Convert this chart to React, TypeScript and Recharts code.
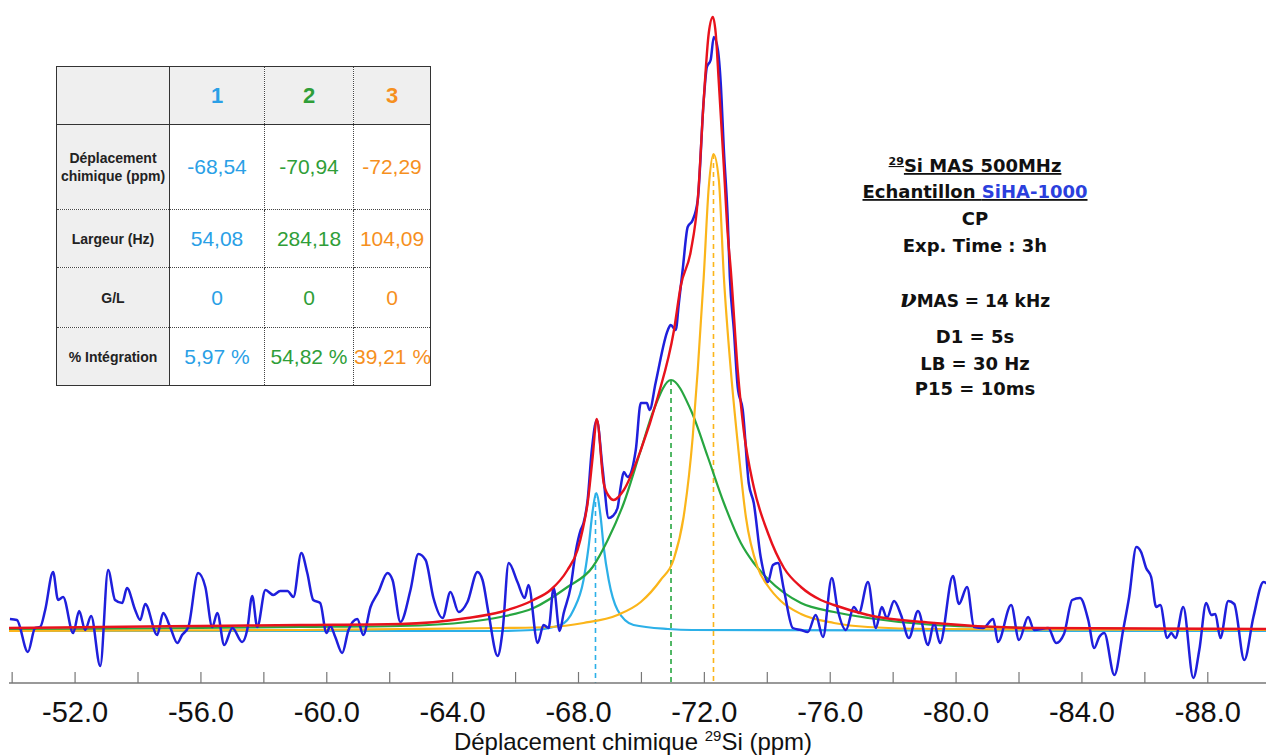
import React from 'react';
import { LineChart, Line, XAxis, YAxis, ReferenceLine } from 'recharts';

// chemical shift (ppm) / intensity pairs
const spectrum: [number, number][] = [
  [-49.93, 12], [-50.15, 11], [-50.5, -21], [-50.73, 3], [-50.89, 4], [-51.05, 21], [-51.3, 59], [-51.46, 31],
  [-51.62, 34], [-51.94, -2], [-52.13, 20], [-52.32, 1], [-52.51, 15], [-52.8, -35], [-53.05, 61], [-53.27, 31],
  [-53.5, 28], [-53.65, 43], [-53.91, 21], [-54.07, 11], [-54.23, 27], [-54.61, -4], [-54.8, 18], [-55.02, 4],
  [-55.25, -12], [-55.4, -4], [-55.6, 4], [-55.91, 58], [-56.14, 44], [-56.36, 4], [-56.52, 18], [-56.74, -14],
  [-57.0, 3], [-57.31, -11], [-57.47, 1], [-57.63, 35], [-57.79, 4], [-58.05, 41], [-58.3, 36], [-58.52, 40],
  [-58.75, 40], [-58.94, 34], [-59.19, 78], [-59.38, 58], [-59.57, 31], [-59.79, 28], [-59.99, -2], [-60.11, 5],
  [-60.27, -6], [-60.49, -22], [-60.69, 1], [-60.97, 12], [-61.16, -4], [-61.39, 24], [-61.64, 39], [-61.93, 58],
  [-62.09, 51], [-62.34, 9], [-62.66, 41], [-62.91, 77], [-63.14, 71], [-63.39, 33], [-63.68, 13], [-63.93, 39],
  [-64.19, 19], [-64.47, 29], [-64.79, 59], [-64.95, 51], [-65.14, 18], [-65.43, -25], [-65.59, 1], [-65.78, 68],
  [-66.06, 49], [-66.29, 33], [-66.41, 46], [-66.7, -12], [-66.89, 6], [-67.05, 3], [-67.21, 43], [-67.4, 0],
  [-67.53, 18], [-67.75, 44], [-67.91, 79], [-68.07, 101], [-68.16, 108], [-68.29, 131], [-68.42, 180], [-68.58, 211],
  [-68.77, 161], [-68.96, 113], [-69.09, 115], [-69.24, 123], [-69.34, 144], [-69.44, 159], [-69.56, 154], [-69.82, 181],
  [-69.98, 228], [-70.17, 228], [-70.26, 221], [-70.45, 248], [-70.84, 301], [-70.93, 306], [-71.09, 301], [-71.19, 328],
  [-71.31, 361], [-71.47, 404], [-71.63, 411], [-71.79, 431], [-71.98, 531], [-72.08, 564], [-72.2, 571], [-72.3, 594],
  [-72.43, 581], [-72.52, 548], [-72.62, 481], [-72.74, 414], [-72.81, 354], [-72.94, 300], [-73.06, 244], [-73.22, 221],
  [-73.41, 148], [-73.57, 128], [-73.79, 74], [-74.02, 49], [-74.18, 66], [-74.34, 68], [-74.53, 41], [-74.81, 3],
  [-75.07, 1], [-75.29, -1], [-75.54, 16], [-75.77, -6], [-76.05, 53], [-76.24, 21], [-76.5, 1], [-76.75, 24],
  [-76.91, 18], [-77.2, 49], [-77.45, 3], [-77.64, 24], [-77.8, 13], [-78.03, 30], [-78.25, 16], [-78.5, -7],
  [-78.79, 20], [-79.11, -14], [-79.3, 8], [-79.49, -12], [-79.9, 55], [-80.09, 27], [-80.35, 44], [-80.57, 4],
  [-80.86, 3], [-81.18, 12], [-81.33, -11], [-81.75, 26], [-82.0, -9], [-82.29, 14], [-82.48, 1], [-82.93, 3],
  [-83.18, -12], [-83.43, -3], [-83.69, 31], [-83.94, 33], [-84.2, 11], [-84.39, -17], [-84.55, -6], [-84.71, -2],
  [-85.03, -44], [-85.31, 1], [-85.5, 34], [-85.73, 84], [-85.88, 79], [-86.04, 63], [-86.2, 54], [-86.36, 24],
  [-86.49, 26], [-86.71, -7], [-86.84, -2], [-86.97, -7], [-87.22, 24], [-87.54, -47], [-87.73, -19], [-87.95, 28],
  [-88.11, 16], [-88.24, 17], [-88.4, -7], [-88.65, 30], [-88.84, 27], [-89.16, -29], [-89.45, 14], [-89.77, 49],
  [-89.89, 47],
];

// sum of the fitted components
const fitSum: [number, number][] = [
  [-49.9, 3], [-52.8, 4], [-55.98, 5], [-59.16, 6], [-62.34, 7], [-64.47, 13], [-65.52, 19], [-66.57, 31],
  [-67.11, 41], [-67.65, 61], [-67.97, 81], [-68.13, 101], [-68.29, 128], [-68.45, 174], [-68.58, 212], [-68.8, 148],
  [-68.96, 135], [-69.12, 131], [-69.44, 141], [-69.98, 181], [-70.52, 234], [-71.03, 300], [-71.25, 345], [-71.57, 380],
  [-71.79, 431], [-71.98, 531], [-72.14, 598], [-72.27, 614], [-72.36, 598], [-72.46, 548], [-72.62, 464], [-72.74, 398],
  [-72.84, 361], [-73.06, 261], [-73.25, 201], [-73.57, 144], [-74.02, 98], [-74.53, 63], [-75.07, 44], [-75.7, 31],
  [-76.12, 26], [-77.2, 16], [-79.3, 8], [-82.48, 3], [-89.89, 2],
];

const peak1: [number, number][] = [
  [-49.9, 0], [-65.52, 0], [-66.57, 1], [-67.43, 6], [-67.84, 21], [-68.16, 51], [-68.32, 84], [-68.45, 120],
  [-68.56, 138], [-68.7, 115], [-68.8, 84], [-68.96, 51], [-69.24, 21], [-69.75, 6], [-70.84, 2], [-71.6, 1], [-89.89, 0],
];

const peak2: [number, number][] = [
  [-49.9, 1], [-52.8, 2], [-55.98, 3], [-59.16, 4], [-62.34, 5], [-64.47, 9], [-65.52, 14], [-66.57, 23],
  [-67.65, 44], [-68.45, 64], [-68.93, 91], [-69.44, 128], [-69.98, 181], [-70.39, 221], [-70.94, 251], [-71.57, 221],
  [-72.11, 174], [-72.62, 128], [-73.16, 88], [-73.57, 68], [-74.02, 52], [-75.07, 28], [-76.12, 19], [-77.2, 13],
  [-79.3, 6], [-82.48, 3], [-89.89, 1],
];

const peak3: [number, number][] = [
  [-49.9, 0], [-59.16, 1], [-62.34, 2], [-65.52, 3], [-67.11, 4], [-68.16, 8], [-69.24, 16], [-69.98, 29],
  [-70.61, 51], [-71.03, 72], [-71.34, 114], [-71.63, 194], [-71.79, 261], [-71.98, 354], [-72.14, 444], [-72.29, 477],
  [-72.46, 451], [-72.62, 354], [-72.84, 261], [-73.06, 188], [-73.32, 114], [-73.7, 63], [-74.02, 45], [-74.43, 30],
  [-75.07, 17], [-76.12, 8], [-77.2, 4], [-79.3, 2], [-89.89, 1],
];

// fit results
const peakNames = ['1', '2', '3'];
const peakShifts = [-68.54, -70.94, -72.29];
const peakHeights = [138, 251, 477];
const shiftLabels = ['-68,54', '-70,94', '-72,29'];
const widthLabels = ['54,08', '284,18', '104,09'];
const glLabels = ['0', '0', '0'];
const integrationLabels = ['5,97 %', '54,82 %', '39,21 %'];
const peakColors = ['#2a9fe6', '#2f9e38', '#f6901e'];
const curveColors = ['#2cb0e8', '#27a640', '#fbb51a'];

const tickValues = [-50, -52, -54, -56, -58, -60, -62, -64, -66, -68, -70, -72, -74, -76, -78, -80, -82, -84, -86, -88];
const labelledTicks = [-52, -56, -60, -64, -68, -72, -76, -80, -84, -88];

const toRows = (pts: [number, number][]) => pts.map(([x, y]) => ({ x, y }));

const AxisTick = (props: any) => {
  const { x, y, payload } = props;
  const v = payload.value;
  return (
    <g>
      <line x1={x} x2={x} y1={y - 11} y2={y} stroke="#777" strokeWidth={1.2} />
      {labelledTicks.includes(v) && (
        <text x={x} y={y + 39} textAnchor="middle" fontSize={29} fill="#111" fontFamily="'Liberation Sans', Arial, sans-serif">
          {v.toFixed(1)}
        </text>
      )}
    </g>
  );
};

const cellBase: React.CSSProperties = {
  borderRight: '1px dotted #444',
  borderBottom: '1px dotted #444',
  textAlign: 'center',
  verticalAlign: 'middle',
  padding: 0,
  whiteSpace: 'nowrap',
  overflow: 'hidden',
};

const FitTable = () => {
  const rows = [
    { label: ['Déplacement', 'chimique (ppm)'], values: shiftLabels, h: 85 },
    { label: ['Largeur (Hz)'], values: widthLabels, h: 58 },
    { label: ['G/L'], values: glLabels, h: 60 },
    { label: ['% Intégration'], values: integrationLabels, h: 58 },
  ];
  const colW = [113, 95, 89, 77];
  const labelStyle: React.CSSProperties = {
    ...cellBase,
    background: '#efefef',
    borderRight: '1px solid #333',
    fontWeight: 'bold',
    fontSize: 14,
    lineHeight: '18px',
    color: '#222',
  };
  return (
    <table
      style={{
        position: 'absolute', left: 56, top: 66, borderCollapse: 'collapse', tableLayout: 'fixed',
        width: 375, border: '1.5px solid #333', fontFamily: "'Liberation Sans', Arial, sans-serif", background: '#fff',
      }}
    >
      <colgroup>{colW.map((w, i) => <col key={i} style={{ width: w }} />)}</colgroup>
      <tbody>
        <tr style={{ height: 58 }}>
          <td style={{ ...labelStyle, borderBottom: '1px solid #333' }} />
          {peakNames.map((n, i) => (
            <td key={n} style={{ ...cellBase, background: '#efefef', borderBottom: '1px solid #333', color: peakColors[i], fontWeight: 'bold', fontSize: 22 }}>{n}</td>
          ))}
        </tr>
        {rows.map((r) => (
          <tr key={r.label[0]} style={{ height: r.h }}>
            <td style={labelStyle}>{r.label.map((l) => <div key={l}>{l}</div>)}</td>
            {r.values.map((v, i) => (
              <td key={i} style={{ ...cellBase, color: peakColors[i], fontSize: 21, textAlign: i === 2 && v.length > 6 ? 'left' : 'center' }}>{v}</td>
            ))}
          </tr>
        ))}
      </tbody>
    </table>
  );
};

const Notes = () => {
  const f = "'DejaVu Sans', sans-serif";
  const common = { x: 975, textAnchor: 'middle' as const, fontFamily: f, fontWeight: 'bold', fontSize: 18, fill: '#111' };
  return (
    <svg width={1266} height={756} style={{ position: 'absolute', left: 0, top: 0, pointerEvents: 'none' }}>
      <text {...common} y={172} textDecoration="underline">
        <tspan fontSize={11} dy={-7}>29</tspan>
        <tspan dy={7}>Si MAS 500MHz</tspan>
      </text>
      <text {...common} y={198} textDecoration="underline">
        Echantillon <tspan fill="#2b3fdd">SiHA-1000</tspan>
      </text>
      <text {...common} y={225}>CP</text>
      <text {...common} y={252}>Exp. Time : 3h</text>
      <text {...common} y={307} fontSize={17}>
        <tspan fontFamily="'DejaVu Serif', serif" fontStyle="italic" fontSize={24}>ν</tspan>MAS = 14 kHz
      </text>
      <text {...common} y={343}>D1 = 5s</text>
      <text {...common} y={370}>LB = 30 Hz</text>
      <text {...common} y={395}>P15 = 10ms</text>
      <text x={633} y={750} textAnchor="middle" fontSize={24} fill="#111" fontFamily="'Liberation Sans', Arial, sans-serif">
        Déplacement chimique <tspan fontSize={15} dy={-9}>29</tspan><tspan dy={9}>Si (ppm)</tspan>
      </text>
    </svg>
  );
};

export default function App() {
  return (
    <div style={{ position: 'absolute', left: 0, top: 0, width: 1266, height: 756, background: '#fff', overflow: 'hidden' }}>
      <LineChart width={1266} height={756} margin={{ top: 0, right: 0, left: 9, bottom: 0 }}>
        <XAxis
          type="number"
          dataKey="x"
          domain={[-89.85, -49.9]}
          reversed
          allowDataOverflow
          ticks={tickValues}
          interval={0}
          tick={<AxisTick />}
          tickLine={false}
          tickSize={0}
          tickMargin={0}
          axisLine={{ stroke: '#777', strokeWidth: 1.5 }}
          height={73}
        />
        <YAxis type="number" dataKey="y" domain={[-52, 631]} allowDataOverflow hide />
        {peakShifts.map((s, i) => (
          <ReferenceLine
            key={s}
            segment={[{ x: s, y: peakHeights[i] }, { x: s, y: -52 }]}
            stroke={curveColors[i]}
            strokeWidth={1.6}
            strokeDasharray="5 4"
          />
        ))}
        <Line data={toRows(peak1)} dataKey="y" type="monotone" stroke={curveColors[0]} strokeWidth={2.2} dot={false} isAnimationActive={false} />
        <Line data={toRows(peak2)} dataKey="y" type="monotone" stroke={curveColors[1]} strokeWidth={2.2} dot={false} isAnimationActive={false} />
        <Line data={toRows(peak3)} dataKey="y" type="monotone" stroke={curveColors[2]} strokeWidth={2.2} dot={false} isAnimationActive={false} />
        <Line data={toRows(spectrum)} dataKey="y" type="monotone" stroke="#1f1fdc" strokeWidth={2.5} dot={false} isAnimationActive={false} />
        <Line data={toRows(fitSum)} dataKey="y" type="monotone" stroke="#e8121c" strokeWidth={2.4} dot={false} isAnimationActive={false} />
      </LineChart>
      <FitTable />
      <Notes />
    </div>
  );
}
